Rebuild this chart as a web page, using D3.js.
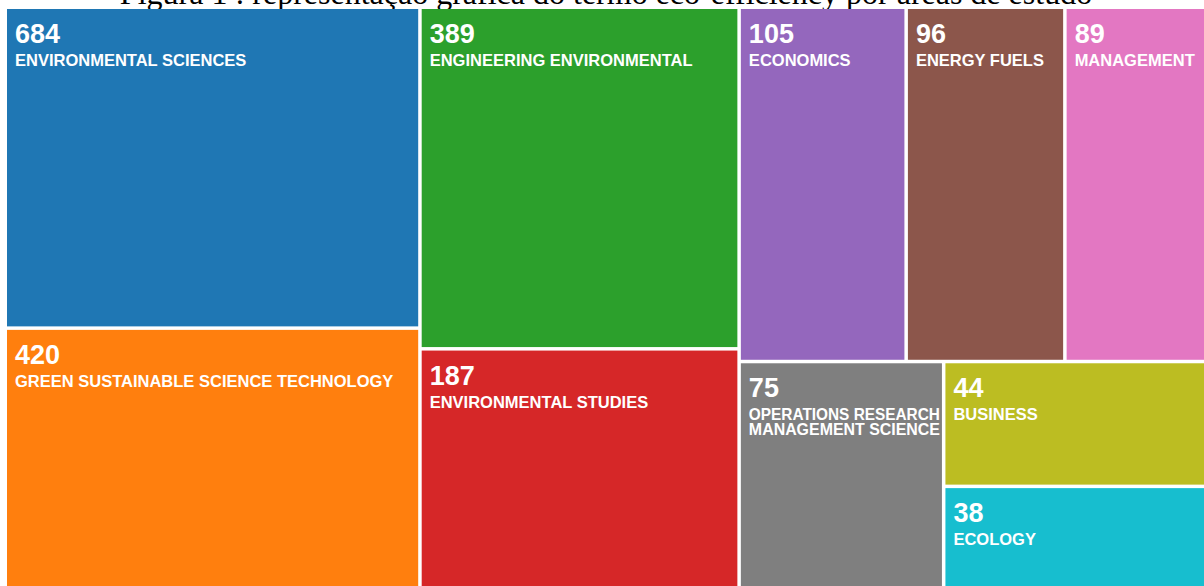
<!DOCTYPE html>
<html>
<head>
<meta charset="utf-8">
<script src="https://cdnjs.cloudflare.com/ajax/libs/d3/7.8.5/d3.min.js"></script>
<style>
  body { margin: 0; background: #fff; overflow: hidden; }
  .num { font-family: "Liberation Sans", Arial, sans-serif; font-weight: bold; fill: #fff; }
  .cat { font-family: "Liberation Sans", Arial, sans-serif; font-weight: bold; fill: #fff; }
  .title { font-family: "Liberation Serif", "Times New Roman", serif; fill: #000; }
</style>
</head>
<body>
<div id="chart"></div>
<script>
(function(){

  // data
  var categories = ["ENVIRONMENTAL SCIENCES", "GREEN SUSTAINABLE SCIENCE TECHNOLOGY",
                    "ENGINEERING ENVIRONMENTAL", "ENVIRONMENTAL STUDIES",
                    "ECONOMICS", "ENERGY FUELS", "MANAGEMENT",
                    "OPERATIONS RESEARCH MANAGEMENT SCIENCE", "BUSINESS", "ECOLOGY"]
  var counts = [684, 420, 389, 187, 105, 96, 89, 75, 44, 38]
  var colors = d3.schemeCategory10
  var title = "Figura 1 : representação gráfica do termo eco-efficiency por áreas de estudo"

  var width = 1204, height = 586

  var svg = d3.select("#chart").append("svg")
        .attr("width", width)
        .attr("height", height)

  svg.append("text")
    .attr("class", "title")
    .attr("x", 606)
    .attr("y", 4)
    .attr("text-anchor", "middle")
    .style("font-size", "32px")
    .text(title)

  // leaf helper
  function leaf(i){ return { name: categories[i], value: counts[i], color: colors[i] } }

  // grouping as in the picture: columns, then rows
  var tree = { dir: "x", children: [
    { dir: "y", children: [leaf(0), leaf(1)] },
    { dir: "y", children: [leaf(2), leaf(3)] },
    { dir: "y", children: [
      { dir: "x", children: [leaf(4), leaf(5), leaf(6)] },
      { dir: "x", children: [leaf(7), { dir: "y", children: [leaf(8), leaf(9)] }] }
    ]}
  ]}

  // the big areas are squeezed in the original, a symlog scale fits it
  var size = d3.scaleSymlog().constant(40).domain([0, 1]).range([0, 1])

  var root = d3.hierarchy(tree)
    .sum(function(d){ return d.children ? 0 : size(d.value) })

  d3.treemap()
    .tile(function(node, x0, y0, x1, y1){
      if (node.data.dir === "x") d3.treemapDice(node, x0, y0, x1, y1)
      else d3.treemapSlice(node, x0, y0, x1, y1)
    })
    .size([1208, 588])
    .paddingInner(3.5)
    (root)

  var g = svg.append("g")
    .attr("transform", "translate(7,9)")

  var cell = g.selectAll("g.cell")
    .data(root.leaves())
    .enter().append("g")
    .attr("class", "cell")
    .attr("transform", function(d){ return "translate(" + d.x0 + "," + d.y0 + ")" })

  cell.append("rect")
    .attr("width", function(d){ return d.x1 - d.x0 })
    .attr("height", function(d){ return d.y1 - d.y0 })
    .style("fill", function(d){ return d.data.color })

  cell.append("text")
    .attr("class", "num")
    .attr("x", 8)
    .attr("y", 34)
    .style("font-size", "27px")
    .text(function(d){ return d.data.value })

  // category label, wrapped when it does not fit, squeezed a bit if needed
  cell.append("text")
    .attr("class", "cat")
    .attr("x", 8)
    .attr("y", 57)
    .style("font-size", "16.5px")
    .each(function(d){
      var t = d3.select(this)
      var room = (d.x1 - d.x0) - 10
      var words = d.data.name.split(" ")
      var line = []
      var ts = t.append("tspan").attr("x", 8).attr("dy", 0)
      words.forEach(function(w){
        line.push(w)
        ts.text(line.join(" "))
        if (ts.node().getComputedTextLength() > room * 1.1 && line.length > 1) {
          line.pop()
          ts.text(line.join(" "))
          line = [w]
          ts = t.append("tspan").attr("x", 8).attr("dy", 14.5).text(w)
        }
      })
      t.selectAll("tspan").each(function(){
        if (this.getComputedTextLength() > room) {
          d3.select(this).attr("textLength", room).attr("lengthAdjust", "spacingAndGlyphs")
        }
      })
    })

})()
</script>
</body>
</html>
